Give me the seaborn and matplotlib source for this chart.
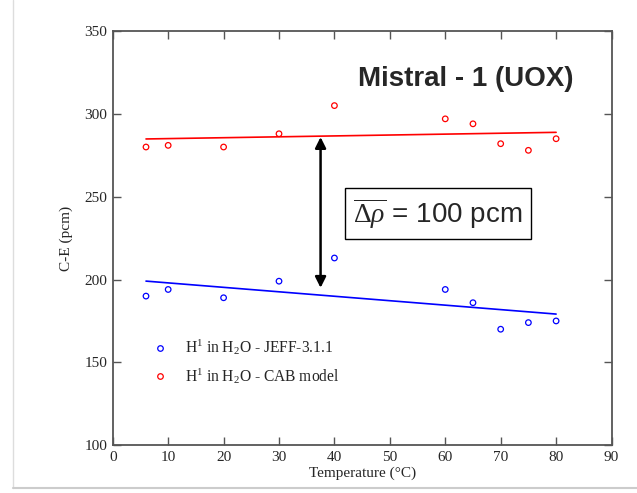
import pandas as pd
import matplotlib.pyplot as plt
import matplotlib.lines as mlines
import seaborn as sns

temp = [6, 10, 20, 30, 40, 60, 65, 70, 75, 80]
jeff = [190, 194, 189, 199, 213, 194, 186, 170, 174, 175]
cab = [280, 281, 280, 288, 305, 297, 294, 282, 278, 285]

df = pd.DataFrame({'temp': temp, 'jeff': jeff, 'cab': cab})

sns.set_style("ticks")
plt.rcParams['font.family'] = ['Liberation Serif', 'DejaVu Serif']
plt.rcParams['mathtext.fontset'] = 'custom'
plt.rcParams['mathtext.rm'] = 'Liberation Serif'
plt.rcParams['mathtext.it'] = 'Liberation Serif:italic'

fig = plt.figure(figsize=(6.37, 4.93), dpi=100)
ax = fig.add_axes([0.177, 0.097, 0.783, 0.840])

# fitted lines (least squares) + open circle markers
sns.regplot(data=df, x='temp', y='jeff', ax=ax, ci=None, scatter=False,
            color='blue', line_kws={'lw': 1.2})
sns.regplot(data=df, x='temp', y='cab', ax=ax, ci=None, scatter=False,
            color='red', line_kws={'lw': 1.2})
sns.scatterplot(data=df, x='temp', y='jeff', ax=ax, marker='o', s=16,
                facecolor='none', edgecolor='blue', linewidth=0.9)
sns.scatterplot(data=df, x='temp', y='cab', ax=ax, marker='o', s=16,
                facecolor='none', edgecolor='red', linewidth=0.9)

ax.set_xlim(0, 90)
ax.set_ylim(100, 350)
ax.set_xticks(range(0, 91, 10))
ax.set_yticks(range(100, 351, 50))
ax.tick_params(direction='in', length=6, width=1, color='#555555',
               labelsize=11, top=True, right=True, pad=4)
for s in ax.spines.values():
    s.set_color('#555555')
    s.set_linewidth(1.3)
ax.set_xlabel('Temperature (°C)', fontsize=11, labelpad=2)
ax.set_ylabel('C-E (pcm)', fontsize=11, labelpad=8)

# double headed arrow between the two fits
ax.annotate('', xy=(37.5, 195), xytext=(37.5, 286),
            arrowprops=dict(arrowstyle='<|-|>', color='black', lw=1.8,
                            mutation_scale=16, shrinkA=0, shrinkB=0))

ax.text(43.4, 240, r'$\overline{\Delta\rho}$ = 100 pcm', fontsize=20,
        family='Liberation Sans', va='center', ha='left',
        bbox=dict(boxstyle='square,pad=0.3', fc='white', ec='black', lw=1))

ax.text(83.2, 321, 'Mistral - 1 (UOX)', fontsize=20, fontweight='bold',
        family='Liberation Sans', ha='right', va='center')

h1 = mlines.Line2D([], [], ls='none', marker='o', ms=4, mfc='none',
                   mec='blue', mew=0.9)
h2 = mlines.Line2D([], [], ls='none', marker='o', ms=4, mfc='none',
                   mec='red', mew=0.9)
ax.legend([h1, h2], [r'H$^1$ in H$_2$O - JEFF-3.1.1', r'H$^1$ in H$_2$O - CAB model'],
          loc='lower left', bbox_to_anchor=(0.035, 0.11), frameon=False,
          fontsize=11.2, handletextpad=0.6, labelspacing=0.55)

# faint page border
fig.add_artist(mlines.Line2D([0.02, 0.02], [0.01, 1.0], color='#dddddd', lw=1))
fig.add_artist(mlines.Line2D([0.02, 1.0], [0.01, 0.01], color='#cccccc', lw=1.5))

plt.savefig('out.png', dpi=100)
